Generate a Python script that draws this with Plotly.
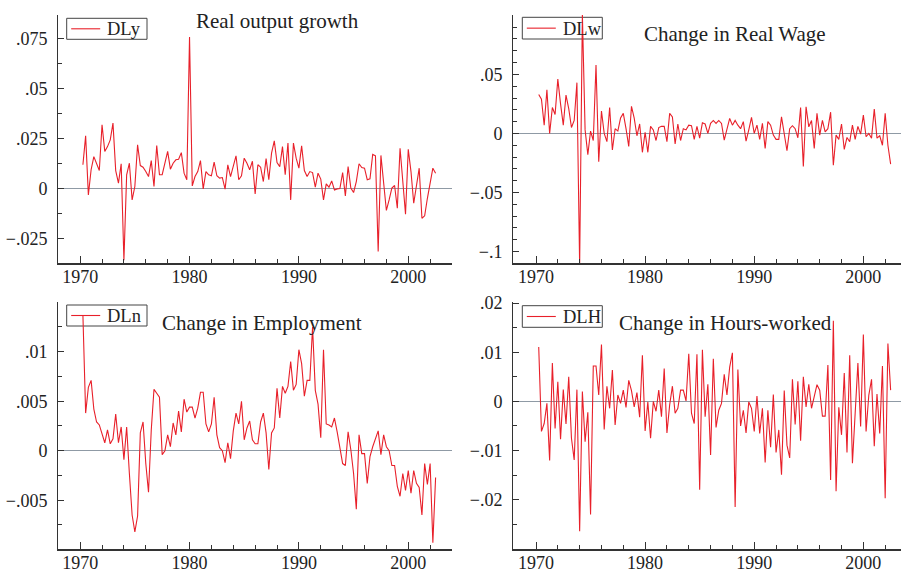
import plotly.graph_objects as go
import pandas as pd

# Quarterly sample 1970Q2 - 2002Q3
periods = pd.period_range("1970Q2", "2002Q3", freq="Q")
years = [p.year + (p.quarter - 1) / 4 for p in periods]

DLy = [0.0119, 0.0264, -0.0032,
       0.0094, 0.016, 0.0127, 0.009,
       0.032, 0.0186, 0.021, 0.0244,
       0.0328, 0.009, 0.0027, 0.0124,
       -0.036, 0.0069, 0.0127, -0.0057,
       0.001, 0.0219, 0.0115, 0.0107,
       0.0085, 0.006, 0.014, 0.001,
       0.0216, 0.0069, 0.0069, 0.0127,
       0.0186, 0.0097, 0.0127, 0.0144,
       0.0147, 0.018, 0.0077, 0.0044,
       0.076, 0.0013, 0.006, 0.0085,
       0.014, -0.0002, 0.0085, 0.0069,
       0.0064, 0.0132, 0.0064, 0.0052,
       0.0055, -0.0003, 0.0119, 0.006,
       0.011, 0.0164, 0.0044, 0.0064,
       0.0152, 0.0127, 0.0094, 0.0137,
       -0.0027, 0.0119, 0.0107, 0.0035,
       0.015, 0.0044, 0.0177, 0.0239,
       0.013, 0.011, 0.021, 0.0069,
       0.0228, -0.0057, 0.0228, 0.0152,
       0.0102, 0.0214, 0.009, 0.006,
       0.0085, 0.008, 0.0007, 0.0077,
       0.0047, -0.0057, 0.0023, 0.0007,
       0.0038, -0.0007, -0.0002, 0.0,
       0.008, -0.0037, 0.011, 0.0002,
       -0.002, 0.0035, 0.0124, 0.0105,
       0.0102, 0.0044, 0.0049, 0.0171,
       0.0164, -0.0316, 0.0166, 0.001,
       -0.011, -0.0057, 0.0002, 0.0015,
       -0.0099, 0.0202, 0.0044, -0.0129,
       0.0197, 0.0085, -0.0074, 0.0018,
       0.0102, -0.0149, -0.0137, -0.0049,
       0.0027, 0.0102, 0.0077]

DLw = [0.033, 0.029, 0.007, 0.037, 0.0, 0.022, 0.016, 0.046, 0.025, 0.007,
       0.0325, 0.021, 0.005, 0.011, 0.043, -0.112, 0.101, 0.003, -0.018, 0.002,
       -0.006, 0.058, -0.024, 0.019, 0.0, -0.007, 0.022, -0.014, 0.004, 0.002,
       0.013, 0.017, 0.004, -0.011, 0.023, 0.013, -0.002, 0.008, -0.016, 0.001,
       -0.016, 0.006, 0.003, -0.006, 0.005, 0.006, 0.006, -0.007, 0.017, 0.014,
       -0.009, 0.008, -0.006, 0.004, 0.003, 0.007, 0.0065, -0.005, 0.006, -0.004,
       0.009, 0.008, 0.0, 0.0085, 0.011, 0.0085, 0.011, 0.0085, -0.0056, 0.004,
       0.0127, 0.007, 0.011, 0.007, 0.004, 0.01, -0.0065, 0.003, 0.0136, 0.0,
       0.007, -0.005, 0.0085, -0.0127, 0.01, 0.007, -0.0014, -0.005, -0.005, 0.014,
       0.0, -0.0147, 0.004, 0.0065, 0.004, -0.0037, 0.022, -0.028, 0.0226, 0.0056,
       0.011, -0.0127, 0.017, -0.0014, 0.011, 0.0014, 0.004, 0.018, -0.027, -0.0014,
       -0.005, 0.008, -0.0136, -0.0034, -0.007, 0.007, -0.005, 0.006, -0.0006, 0.0155,
       -0.0028, 0.0, -0.004, 0.0206, -0.004, -0.002, -0.01, 0.017, -0.01, -0.026]

DLn = [0.0137, 0.0038, 0.0064, 0.0071, 0.0042, 0.0029, 0.0026, 0.0018, 0.0008, 0.0021,
       0.0007, 0.0012, 0.0037, 0.0008, 0.0024, -0.0009, 0.0024, -0.0023, -0.0065, -0.0082,
       -0.0066, 0.0018, 0.0029, -0.0013, -0.0042, 0.0021, 0.0062, 0.0058, 0.0054, -0.0004,
       0.0, 0.0016, 0.0004, 0.0028, 0.0016, 0.004, 0.0019, 0.0052, 0.0039, 0.0044,
       0.0044, 0.0033, 0.0043, 0.0059, 0.0059, 0.0027, 0.0019, 0.0027, 0.0054, 0.0016,
       0.0003, 0.0, -0.0012, 0.0008, -0.0008, 0.002, 0.0038, 0.0027, 0.005, 0.0011,
       0.0023, 0.003, 0.0011, 0.0007, 0.0007, 0.0029, 0.0038, 0.0018, -0.0019, 0.0018,
       0.0023, 0.0063, 0.0033, 0.0065, 0.0058, 0.0065, 0.009, 0.0061, 0.0067, 0.0102,
       0.0088, 0.0055, 0.0071, 0.0071, 0.0125, 0.0061, 0.0047, 0.0013, 0.0102, 0.0027,
       0.0026, 0.0024, 0.0033, 0.0019, 0.0004, -0.0013, -0.0015, 0.0019, 0.0001, -0.0023,
       -0.0059, 0.0016, -0.0003, -0.0003, -0.0033, -0.0006, 0.0004, 0.0013, 0.002, -0.0004,
       0.0016, 0.0004, 0.0, -0.0015, -0.0015, -0.0036, -0.0046, -0.0023, -0.004, -0.002,
       -0.0043, -0.002, -0.0033, -0.0037, -0.0065, -0.0013, -0.0034, -0.0013, -0.0093, -0.0027]

DLH = [0.0111, -0.0061, -0.0045, -0.0004, -0.012, 0.0078, -0.0055, 0.004, -0.0077, 0.0024,
       -0.0046, 0.005, -0.0075, -0.0119, 0.0024, -0.0264, 0.002, -0.0082, -0.0022, -0.023,
       0.0072, 0.0072, 0.0013, 0.0116, -0.0057, 0.0031, -0.0014, 0.0064, -0.0048, 0.0013,
       -0.0004, 0.0023, -0.0012, 0.0043, 0.0022, -0.0011, 0.0018, -0.0032, 0.0094, -0.006,
       -0.0001, -0.0075, 0.0, -0.002, 0.0023, -0.0031, 0.0067, -0.0064, -0.0007, 0.0031,
       -0.0024, -0.0014, 0.0023, 0.0023, 0.0001, 0.0097, -0.0024, -0.0045, 0.0096, -0.018,
       0.0105, -0.0031, 0.0035, -0.0109, 0.0087, -0.0053, -0.0018, -0.0004, 0.0055, 0.0013,
       0.007, 0.0099, -0.0215, 0.0065, -0.005, -0.0018, -0.0064, -0.0001, -0.0014, -0.0061,
       0.0011, -0.0065, -0.0014, -0.0124, -0.0018, -0.0093, 0.0014, -0.0104, -0.0058, -0.0149,
       0.0022, -0.0089, -0.0115, 0.0045, -0.0047, 0.0041, -0.008, 0.005, -0.0011, 0.0035,
       -0.0014, 0.0013, 0.0034, 0.0023, -0.003, -0.003, 0.0074, -0.016, 0.0164, -0.0183,
       -0.0012, -0.0068, 0.0058, -0.0104, 0.0094, -0.0126, -0.0026, 0.0078, -0.0051, 0.0136,
       -0.0061, 0.0013, 0.0045, -0.0091, 0.0015, -0.0065, 0.0072, -0.0197, 0.0118, 0.0023]

series_names = ["DLy", "DLw", "DLn", "DLH"]
titles = ["Real output growth", "Change in Real Wage", "Change in Employment", "Change in Hours-worked"]

y_ticks = [
    ([-0.025, 0, 0.025, 0.05, 0.075], ["\u2212.025", "0", ".025", ".05", ".075"], 0.0125),
    ([-0.1, -0.05, 0, 0.05], ["\u2212.1", "\u2212.05", "0", ".05"], 0.01),
    ([-0.005, 0, 0.005, 0.01], ["\u2212.005", "0", ".005", ".01"], 0.0025),
    ([-0.02, -0.01, 0, 0.01, 0.02], ["\u2212.02", "\u2212.01", "0", ".01", ".02"], 0.005),
]
x_ticks = [1970, 1980, 1990, 2000]

W, H = 901, 573
FONT = "Liberation Serif"
RED = "#e8202a"
AX = "#333333"
TXT = "#222222"

# pixel boxes of each panel: (left, right, top, bottom)
boxes = [(58.3, 452.0, 15.0, 263.3), (513.3, 901.0, 15.0, 263.3),
         (58.3, 452.0, 301.7, 549.3), (513.3, 901.0, 301.7, 549.3)]
x_ranges = [[1968, 2004], [1967.92, 2003.45], [1968, 2004], [1967.92, 2003.45]]
y_ranges = [[-0.0375, 0.087], [-0.110, 0.1003], [-0.00996, 0.01505], [-0.0301, 0.0203]]
# legend boxes: (left, right, top, bottom) in pixels
legend_boxes = [(66.7, 147.0, 18.3, 39.3), (522.3, 602.3, 17.3, 39.0),
                (66.7, 147.0, 305.0, 326.0), (522.3, 602.3, 305.7, 327.3)]
title_pos = [(277.5, 21.0), (735.0, 33.5), (262.0, 322.5), (725.0, 322.5)]

data = [DLy, DLw, DLn, DLH]

def px(x):
    return x / W

def py(y):
    return 1 - y / H

fig = go.Figure()
layout = dict(
    template="none",
    width=W, height=H,
    margin=dict(l=0, r=0, t=0, b=0, pad=0, autoexpand=False),
    paper_bgcolor="white", plot_bgcolor="white",
    font=dict(family=FONT, size=18, color=TXT),
    showlegend=False,
    hovermode=False,
    annotations=[], shapes=[],
)

for k in range(4):
    sfx = "" if k == 0 else str(k + 1)
    fig.add_trace(go.Scatter(
        x=years, y=data[k], mode="lines", name=series_names[k],
        line=dict(color=RED, width=1.1),
        xaxis="x" + sfx, yaxis="y" + sfx, showlegend=False,
    ))
    l, r, t, b = boxes[k]
    layout["xaxis" + sfx] = dict(
        domain=[px(l), px(r)], range=x_ranges[k], anchor="y" + sfx, automargin=False,
        tickmode="array", tickvals=x_ticks, ticktext=[str(v) for v in x_ticks],
        ticks="inside", ticklen=7, tickwidth=1, tickcolor=AX,
        showline=True, linecolor=AX, linewidth=1.2, showgrid=False, zeroline=False,
        minor=dict(tickmode="linear", tick0=1970, dtick=2, ticks="inside", ticklen=4,
                   tickcolor=AX, tickwidth=1, showgrid=False),
        tickfont=dict(family=FONT, size=18, color=TXT),
        ticklabelstandoff=-3,
    )
    tv, tt, mdt = y_ticks[k]
    layout["yaxis" + sfx] = dict(
        domain=[py(b), py(t)], range=y_ranges[k], anchor="x" + sfx, automargin=False,
        tickmode="array", tickvals=tv, ticktext=tt,
        ticks="inside", ticklen=6, tickwidth=1, tickcolor=AX,
        showline=True, linecolor=AX, linewidth=1.2, showgrid=False,
        zeroline=True, zerolinecolor="#8f9aa5", zerolinewidth=1.3,
        minor=dict(tickmode="linear", tick0=0, dtick=mdt, ticks="inside", ticklen=4,
                   tickcolor=AX, tickwidth=1, showgrid=False),
        tickfont=dict(family=FONT, size=18, color=TXT),
        ticklabelstandoff=6,
    )
    # legend drawn as box + line sample + text (box beneath the data lines)
    bl, br, bt, bb = legend_boxes[k]
    cy = (bt + bb) / 2
    layout["shapes"].append(dict(
        type="rect", xref="paper", yref="paper",
        x0=px(bl), x1=px(br), y0=py(bb), y1=py(bt),
        line=dict(color="#444444", width=1), fillcolor="white", layer="below",
    ))
    layout["shapes"].append(dict(
        type="line", xref="paper", yref="paper",
        x0=px(bl + 4.5), x1=px(bl + 33.5), y0=py(cy), y1=py(cy),
        line=dict(color=RED, width=1.1), layer="below",
    ))
    layout["annotations"].append(dict(
        text=series_names[k], xref="paper", yref="paper", x=px(bl + 38.5), y=py(cy + 0.5),
        xanchor="left", yanchor="middle", showarrow=False,
        font=dict(family=FONT, size=18.5, color=TXT),
    ))
    tx, ty = title_pos[k]
    layout["annotations"].append(dict(
        text=titles[k], xref="paper", yref="paper", x=px(tx), y=py(ty),
        xanchor="center", yanchor="middle", showarrow=False,
        font=dict(family=FONT, size=21, color=TXT),
    ))

fig.update_layout(**layout)
fig.write_html(
    "out.html",
    config={"displayModeBar": False, "staticPlot": True},
    post_script="document.body.style.margin='0px';document.body.style.padding='0px';",
)
